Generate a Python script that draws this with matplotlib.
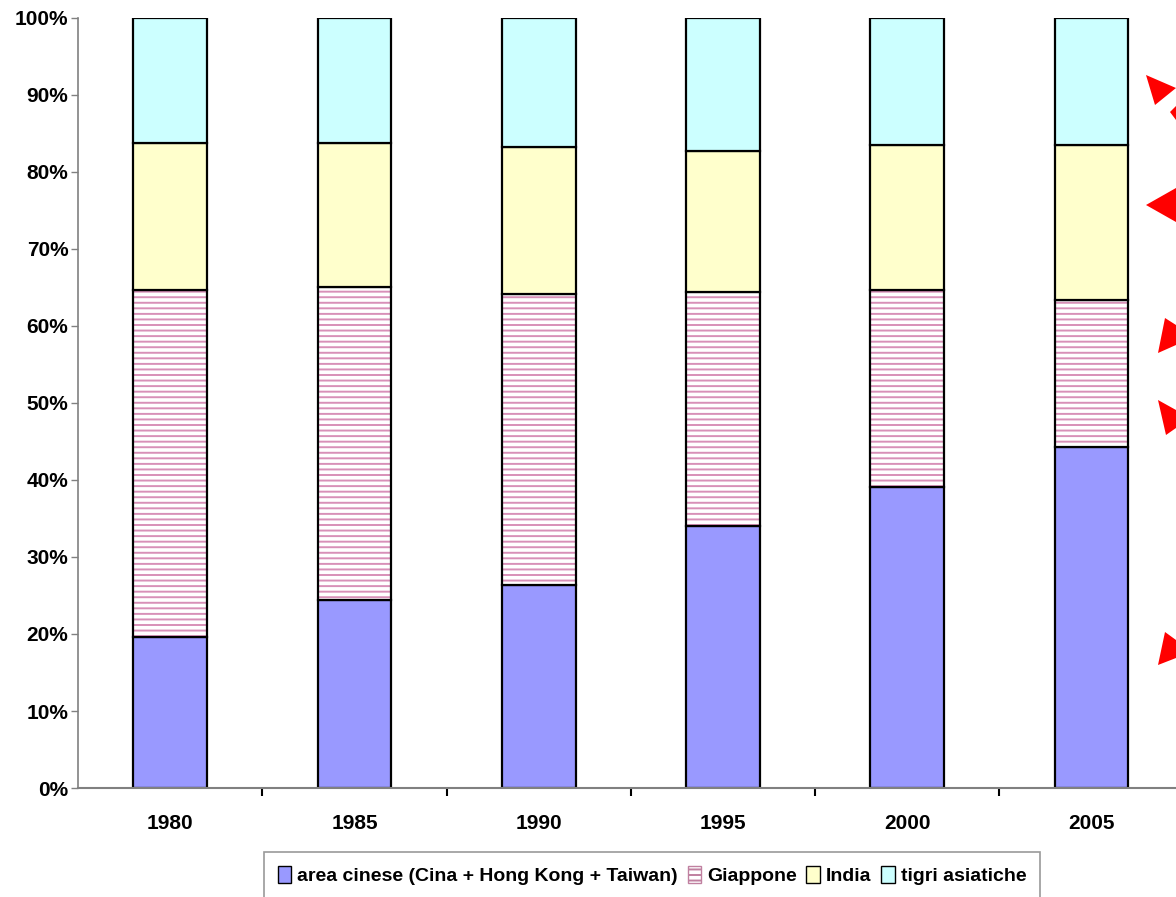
import numpy as np
import matplotlib.pyplot as plt
from matplotlib.patches import Polygon, Patch

anni = ['1980', '1985', '1990', '1995', '2000', '2005']
area_cinese = [19.6, 24.4, 26.4, 34.0, 39.1, 44.3]
giappone = [45.1, 40.7, 37.8, 30.4, 25.6, 19.1]
india = [19.1, 18.7, 19.0, 18.3, 18.8, 20.1]
tigri = [16.2, 16.2, 16.8, 17.3, 16.5, 16.5]

nomi = ['area cinese (Cina + Hong Kong + Taiwan)', 'Giappone', 'India', 'tigri asiatiche']
colori = ['#9999FF', 'white', '#FFFFCC', '#CCFFFF']

plt.rcParams['font.family'] = ['Liberation Sans', 'DejaVu Sans']
plt.rcParams['font.weight'] = 'bold'
plt.rcParams['hatch.linewidth'] = 1.4

fig = plt.figure(figsize=(11.76, 8.97), dpi=100)
ax = fig.add_axes([0.0665, 0.1215, 0.94, 0.8585])

x = np.arange(len(anni))
w = 0.4
serie = [area_cinese, giappone, india, tigri]
base = np.zeros(len(anni))
for vals, col, nome in zip(serie, colori, nomi):
    vals = np.array(vals)
    if nome == 'Giappone':
        # pink texture first, then black outline
        ax.bar(x, vals, w, bottom=base, color='white', edgecolor='#D890B8',
               hatch='---', linewidth=0)
        ax.bar(x, vals, w, bottom=base, fill=False, edgecolor='black', linewidth=1.6)
    else:
        ax.bar(x, vals, w, bottom=base, color=col, edgecolor='black', linewidth=1.6)
    base += vals

ax.set_xlim(-0.5, 5.5)
ax.set_ylim(0, 100)
ax.set_yticks(np.arange(0, 101, 10))
ax.set_yticklabels([f'{v}%' for v in range(0, 101, 10)], fontsize=15, fontweight='bold')
ax.set_xticks(x)
ax.set_xticklabels(anni, fontsize=15, fontweight='bold')
ax.set_xticks(np.arange(0.5, 5.5, 1), minor=True)
ax.tick_params(axis='x', which='major', length=0, pad=19)
ax.tick_params(axis='x', which='minor', length=6, width=1.5, color='black')
ax.tick_params(axis='y', length=5, width=1, color='#808080', pad=2)
for s in ['top', 'right']:
    ax.spines[s].set_visible(False)
ax.spines['left'].set_color('#808080')
ax.spines['bottom'].set_color('#808080')
ax.spines['left'].set_linewidth(1.2)
ax.spines['bottom'].set_linewidth(1.5)

handles = [
    Patch(facecolor='#9999FF', edgecolor='black'),
    Patch(facecolor='white', edgecolor='#C080A0', hatch='---'),
    Patch(facecolor='#FFFFCC', edgecolor='black'),
    Patch(facecolor='#CCFFFF', edgecolor='black'),
]
leg = fig.legend(handles, nomi, loc='upper center', bbox_to_anchor=(652 / 1176, 1 - 852 / 897),
                 ncol=4, frameon=True, fancybox=False, fontsize=14,
                 handlelength=0.7, handleheight=1.0, handletextpad=0.3,
                 columnspacing=0.5, borderpad=0.7, borderaxespad=0)
leg.get_frame().set_edgecolor('#808080')
leg.get_frame().set_linewidth(1.2)
for t in leg.get_texts():
    t.set_fontweight('bold')

# red arrow heads cut at the right edge
frecce = [
    [(1146, 75), (1176, 88), (1155, 105)],
    [(1170, 112), (1176, 106), (1176, 120)],
    [(1146, 205), (1176, 188), (1176, 222)],
    [(1165, 318), (1176, 325), (1176, 345), (1158, 353)],
    [(1158, 400), (1176, 410), (1176, 428), (1166, 435)],
    [(1165, 632), (1176, 640), (1176, 658), (1158, 665)],
]
for pts in frecce:
    p = Polygon([(px / 1176, 1 - py / 897) for px, py in pts], closed=True,
                transform=fig.transFigure, facecolor='red', edgecolor='none')
    fig.patches.append(p)

fig.savefig('out.png', dpi=100)
